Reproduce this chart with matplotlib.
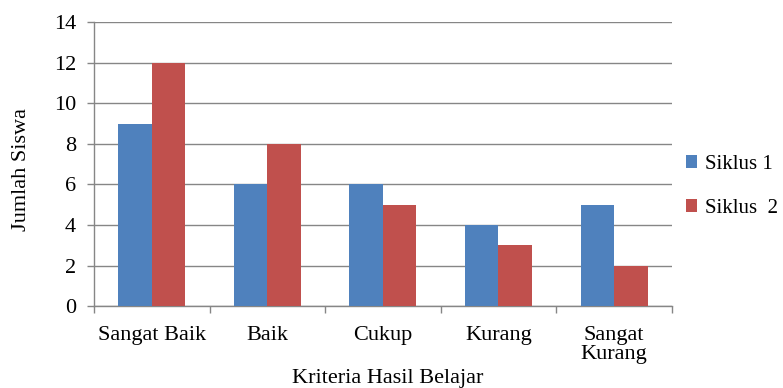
import matplotlib.pyplot as plt
import numpy as np

plt.rcParams['font.family'] = ['Liberation Serif', 'DejaVu Serif']

# data
kriteria = ["Sangat Baik", "Baik", "Cukup", "Kurang", "Sangat\nKurang"]
siklus_1 = [9, 6, 6, 4, 5]
siklus_2 = [12, 8, 5, 3, 2]

fig = plt.figure(figsize=(7.83, 3.88), dpi=100)
ax = fig.add_axes([0.12, 0.211, 0.738, 0.732])

x = np.arange(len(kriteria))
w = 0.29
ax.bar(x - w / 2, siklus_1, width=w, color='#4F81BD', label='Siklus 1', zorder=3)
ax.bar(x + w / 2, siklus_2, width=w, color='#C0504D', label='Siklus  2', zorder=3)

ax.set_xlim(-0.5, len(kriteria) - 0.5)
ax.set_ylim(0, 14)
ax.set_yticks(range(0, 15, 2))
ax.set_xticks(x)
ax.set_xticklabels(kriteria, fontsize=16, linespacing=1.0)
ax.set_xticks(np.arange(-0.5, len(kriteria)), minor=True)
ax.tick_params(axis='x', which='major', length=0, pad=14)
ax.tick_params(axis='x', which='minor', length=5, color='#868686', width=1)
ax.tick_params(axis='y', length=5, color='#868686', width=1, labelsize=16, pad=8)

# grid
ax.grid(axis='y', color='#868686', linewidth=1, zorder=0)
for s in ['top', 'right']:
    ax.spines[s].set_visible(False)
for s in ['left', 'bottom']:
    ax.spines[s].set_color('#868686')
    ax.spines[s].set_linewidth(1)

ax.set_ylabel("Jumlah Siswa", fontsize=16, va='center')
ax.yaxis.set_label_coords(-0.125, 0.48)
ax.set_xlabel("Kriteria Hasil Belajar", fontsize=16, va='center')
ax.xaxis.set_label_coords(0.509, -0.254)

ax.legend(loc='center left', bbox_to_anchor=(0.876, 0.52), bbox_transform=fig.transFigure,
          frameon=False, fontsize=15, handlelength=0.55, handleheight=0.55,
          labelspacing=1.2, handletextpad=0.35, borderaxespad=0, borderpad=0)

plt.savefig('out.png', dpi=100)
